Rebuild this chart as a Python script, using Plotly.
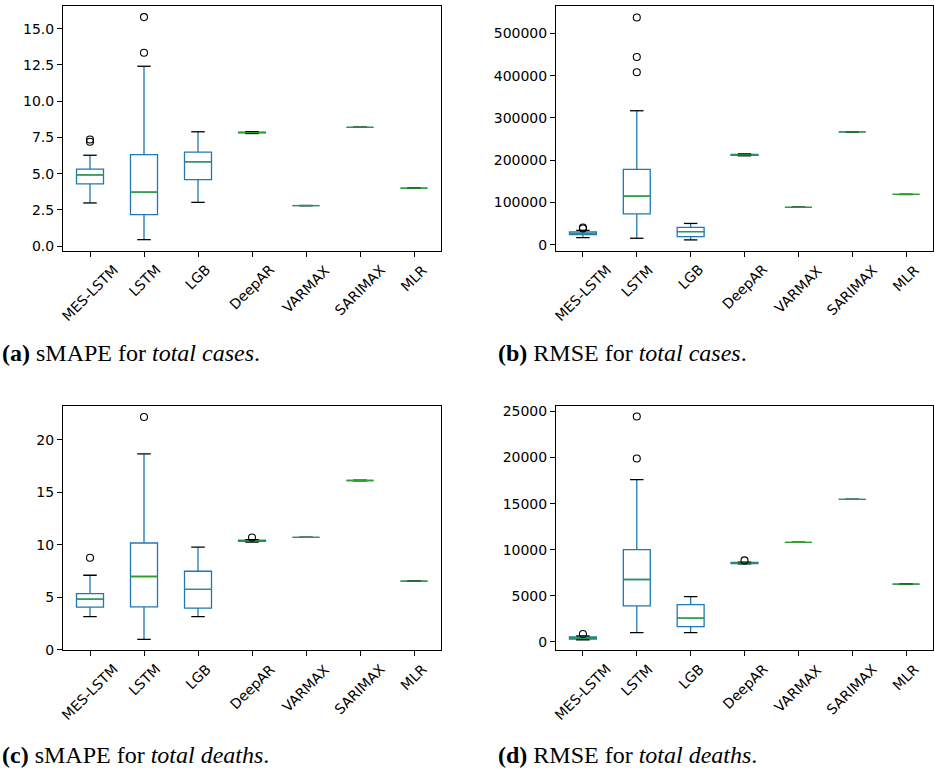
import plotly.graph_objects as go

models = ["MES-LSTM", "LSTM", "LGB", "DeepAR", "VARMAX", "SARIMAX", "MLR"]

# (a) sMAPE for total cases
sc_lo = [2.98, 0.45, 3.02, 7.77, 2.80, 8.20, 4.00]
sc_q1 = [4.30, 2.18, 4.59, 7.81, 2.80, 8.20, 4.00]
sc_med = [4.91, 3.73, 5.82, 7.84, 2.80, 8.20, 4.00]
sc_q3 = [5.32, 6.32, 6.48, 7.87, 2.80, 8.20, 4.00]
sc_hi = [6.27, 12.41, 7.89, 7.90, 2.80, 8.20, 4.00]
sc_out_cat = ["MES-LSTM", "MES-LSTM", "LSTM", "LSTM"]
sc_out_val = [7.36, 7.20, 15.8, 13.34]

# (b) RMSE for total cases
rc_lo = [17100, 15600, 11700, 210500, 88800, 267100, 119200]
rc_q1 = [24100, 73200, 19500, 211500, 88800, 267100, 119200]
rc_med = [26500, 115300, 31200, 212500, 88800, 267100, 119200]
rc_q3 = [30400, 178400, 41300, 214000, 88800, 267100, 119200]
rc_hi = [34300, 317000, 50600, 215000, 88800, 267100, 119200]
rc_out_cat = ["MES-LSTM", "MES-LSTM", "LSTM", "LSTM", "LSTM"]
rc_out_val = [38500, 41000, 537300, 443900, 408000]

# (c) sMAPE for total deaths
sd_lo = [3.16, 1.00, 3.16, 10.25, 10.70, 16.12, 6.54]
sd_q1 = [4.07, 4.10, 3.97, 10.32, 10.70, 16.12, 6.54]
sd_med = [4.82, 6.98, 5.76, 10.38, 10.70, 16.12, 6.54]
sd_q3 = [5.35, 10.17, 7.48, 10.45, 10.70, 16.12, 6.54]
sd_hi = [7.10, 18.65, 9.77, 10.50, 10.70, 16.12, 6.54]
sd_out_cat = ["MES-LSTM", "LSTM", "DeepAR"]
sd_out_val = [8.76, 22.16, 10.70]

# (d) RMSE for total deaths
rd_lo = [215, 1000, 1000, 8450, 10800, 15450, 6260]
rd_q1 = [286, 3900, 1645, 8480, 10800, 15450, 6260]
rd_med = [393, 6760, 2575, 8550, 10800, 15450, 6260]
rd_q3 = [536, 10014, 4040, 8620, 10800, 15450, 6260]
rd_hi = [650, 17600, 4900, 8650, 10800, 15450, 6260]
rd_out_cat = ["MES-LSTM", "LSTM", "LSTM", "DeepAR"]
rd_out_val = [850, 24460, 19890, 8834]

captions = [
    "<b>(a)</b> sMAPE for <i>total cases</i>.",
    "<b>(b)</b> RMSE for <i>total cases</i>.",
    "<b>(c)</b> sMAPE for <i>total deaths</i>.",
    "<b>(d)</b> RMSE for <i>total deaths</i>.",
]

panels = [
    (sc_lo, sc_q1, sc_med, sc_q3, sc_hi, sc_out_cat, sc_out_val),
    (rc_lo, rc_q1, rc_med, rc_q3, rc_hi, rc_out_cat, rc_out_val),
    (sd_lo, sd_q1, sd_med, sd_q3, sd_hi, sd_out_cat, sd_out_val),
    (rd_lo, rd_q1, rd_med, rd_q3, rd_hi, rd_out_cat, rd_out_val),
]

BLUE = "#1f77b4"
GREEN = "#2ca02c"
BOXW = 0.5
CAPW = 0.25
LW = 1.3

fig = go.Figure()
pos = list(range(len(models)))
for k, (lo, q1, med, q3, hi, ocat, oval) in enumerate(panels):
    sfx = "" if k == 0 else str(k + 1)
    xa, ya = "x" + sfx, "y" + sfx
    fig.add_trace(go.Box(
        x=pos, q1=q1, median=med, q3=q3, lowerfence=lo, upperfence=hi,
        width=BOXW, whiskerwidth=0, line=dict(color=BLUE, width=LW),
        fillcolor="rgba(0,0,0,0)", boxpoints=False, showlegend=False,
        xaxis=xa, yaxis=ya, hoverinfo="skip"))
    # caps
    cx, cy = [], []
    for i in range(len(models)):
        for v in (lo[i], hi[i]):
            cx += [i - CAPW / 2, i + CAPW / 2, None]
            cy += [v, v, None]
    fig.add_trace(go.Scatter(x=cx, y=cy, mode="lines",
                             line=dict(color="black", width=LW),
                             showlegend=False, xaxis=xa, yaxis=ya, hoverinfo="skip"))
    # medians (drawn over caps, as in matplotlib)
    mx, my = [], []
    for i, m in enumerate(med):
        mx += [i - BOXW / 2, i + BOXW / 2, None]
        my += [m, m, None]
    fig.add_trace(go.Scatter(x=mx, y=my, mode="lines",
                             line=dict(color=GREEN, width=LW),
                             showlegend=False, xaxis=xa, yaxis=ya, hoverinfo="skip"))
    # fliers
    fig.add_trace(go.Scatter(x=[models.index(c) for c in ocat], y=oval, mode="markers",
                             marker=dict(symbol="circle-open", size=7, color="black",
                                         line=dict(width=1.1, color="black")),
                             showlegend=False, xaxis=xa, yaxis=ya, hoverinfo="skip"))

W, H = 934, 775
xdom = [[63 / W, 441 / W], [556 / W, 933 / W]]
ydom = [[1 - 252 / H, 1 - 4 / H], [1 - 656 / H, 1 - 408.3 / H]]
yranges = [[-0.34, 16.57], [-14700, 564700], [-0.05, 23.25], [-933, 25644]]
dticks = [2.5, 100000, 5, 5000]
tfmts = [".1f", "d", "d", "d"]

font_tick = dict(family="DejaVu Sans", size=14, color="black")
layout = dict(width=W, height=H, margin=dict(l=0, r=0, t=0, b=0),
              paper_bgcolor="white", plot_bgcolor="white", showlegend=False)
annotations = []
for k in range(4):
    sfx = "" if k == 0 else str(k + 1)
    col, row = k % 2, k // 2
    layout["xaxis" + sfx] = dict(
        domain=xdom[col], anchor="y" + sfx, range=[-0.5, 6.5],
        tickmode="array", tickvals=pos, ticktext=[""] * len(pos),
        showticklabels=False, ticks="outside", ticklen=5, tickwidth=1, tickcolor="black",
        showline=True, mirror=True, linecolor="black", linewidth=1,
        showgrid=False, zeroline=False)
    layout["yaxis" + sfx] = dict(
        domain=ydom[row], anchor="x" + sfx, range=yranges[k],
        tick0=0, dtick=dticks[k], tickformat=tfmts[k],
        ticks="outside", ticklen=5, tickwidth=1, tickcolor="black",
        tickfont=font_tick,
        showline=True, mirror=True, linecolor="black", linewidth=1,
        showgrid=False, zeroline=False)
    for i, m in enumerate(models):
        annotations.append(dict(
            x=i, xref="x" + sfx, y=0, yref="y" + sfx + " domain",
            text=m, showarrow=False, textangle=-45,
            xanchor="center", yanchor="top", yshift=-8,
            font=font_tick))
    annotations.append(dict(
        x=0 if col == 0 else 496 / W, xref="paper",
        y=1 - (355 if row == 0 else 762) / H, yref="paper",
        text=captions[k], showarrow=False, xanchor="left", yanchor="middle",
        font=dict(family="Liberation Serif", size=24, color="black")))
layout["annotations"] = annotations
fig.update_layout(**layout)
fig.write_html("out.html")
